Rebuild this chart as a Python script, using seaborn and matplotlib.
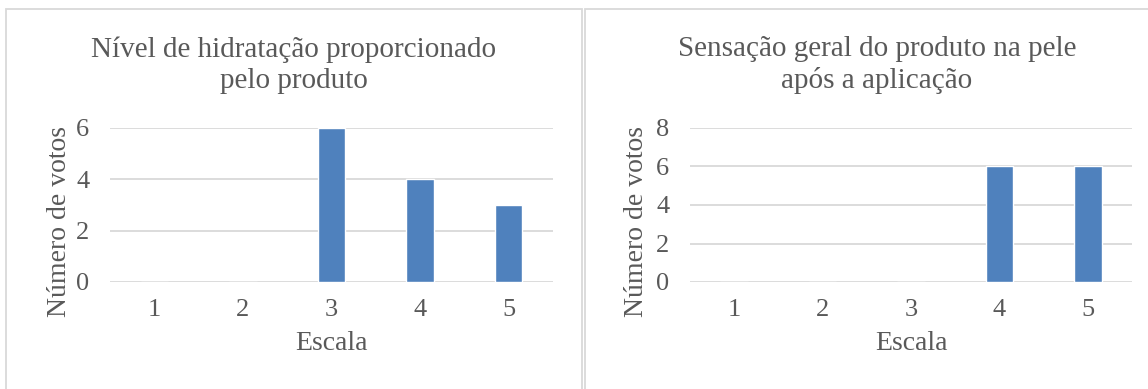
import matplotlib
matplotlib.use("Agg")
import matplotlib.pyplot as plt
from matplotlib.patches import Rectangle
import seaborn as sns
import pandas as pd

# Survey results: votes per scale level
escala = [1, 2, 3, 4, 5]
votos_hidratacao = [0, 0, 6, 4, 3]
votos_sensacao = [0, 0, 0, 6, 6]

titulo_hidratacao = "Nível de hidratação proporcionado\npelo produto"
titulo_sensacao = "Sensação geral do produto na pele\napós a aplicação"
rotulo_x = "Escala"
rotulo_y = "Número de votos"

BAR = "#4F81BD"
GRID = "#D9D9D9"
TEXT = "#595959"

sns.set_theme(style="white")
plt.rcParams["font.family"] = ["Liberation Serif", "DejaVu Serif"]

W, H = 1148, 389
DPI = 100
fig = plt.figure(figsize=(W / DPI, H / DPI), dpi=DPI)
fig.patch.set_facecolor("white")


def px_axes(x0, x1, ytop, ybot):
    return fig.add_axes([x0 / W, 1 - ybot / H, (x1 - x0) / W, (ybot - ytop) / H])


def draw_panel(ax, values, ymax, ylabel_x):
    df = pd.DataFrame({"escala": escala, "votos": values})
    sns.barplot(data=df, x="escala", y="votos", order=escala, color=BAR,
                saturation=1, width=0.31, ax=ax, zorder=3)
    ax.set_ylim(0, ymax)
    ax.set_xlim(-0.5, len(escala) - 0.5)
    ax.set_yticks(range(0, ymax + 1, 2))
    ax.yaxis.grid(True, color=GRID, linewidth=1.3, zorder=0)
    ax.set_axisbelow(True)
    for s in ax.spines.values():
        s.set_visible(False)
    ax.tick_params(axis="both", length=0, labelsize=19, labelcolor=TEXT)
    ax.tick_params(axis="x", pad=12)
    ax.tick_params(axis="y", pad=15)
    ax.set_xlabel(rotulo_x, fontsize=20, color=TEXT)
    ax.set_ylabel(rotulo_y, fontsize=20, color=TEXT)
    ax.xaxis.set_label_coords(0.5, -0.32)
    ax.yaxis.set_label_coords(ylabel_x, 0.39)


ax1 = px_axes(110, 553, 128, 282)
draw_panel(ax1, votos_hidratacao, 6, -0.085)

ax2 = px_axes(690, 1132, 128, 282)
draw_panel(ax2, votos_sensacao, 8, -0.092)

fig.text(294 / W, 1 - 65 / H, titulo_hidratacao, ha="center", va="center",
         fontsize=21, color=TEXT, linespacing=1.27)
fig.text(877 / W, 1 - 65 / H, titulo_sensacao, ha="center", va="center",
         fontsize=21, color=TEXT, linespacing=1.27)

# Chart-area frames around each panel
for x0, x1 in [(6, 582), (585, 1160)]:
    fig.patches.append(Rectangle((x0 / W, -0.05), (x1 - x0) / W, 1 - 9 / H + 0.05,
                                 transform=fig.transFigure, fill=False,
                                 edgecolor=GRID, linewidth=1.3))

fig.savefig("out.png", dpi=DPI, facecolor="white")
